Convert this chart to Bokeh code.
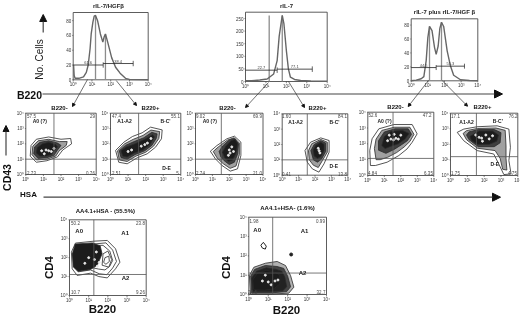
from bokeh.plotting import figure
from bokeh.models import Range1d, Arrow, NormalHead
from bokeh.core.properties import value
from bokeh.embed import file_html
from bokeh.resources import INLINE
import math

# ---------- data ----------
LOG_TICKS = [0, 1, 2, 3, 4]
LOG_LABELS = ["10⁰", "10¹", "10²", "10³", "10⁴"]

H1_X = [0.02,.05,.1,.3,.55,.7,.8,.9,.96,1.05,1.12,1.19,1.3,1.45,1.58,1.65,1.72,1.85,2.05,2.26,2.5,2.79,3.0,4.0]
H1_Y = [20,6,2,2,4,10,20,42,62,78,86,87,80,62,51,58,62,50,30,17,9,2,.5,0]
H1_YTICKS = [0, 20, 40, 60, 80]
H1_PEAKS = [(1.19, 87), (1.72, 62)]
H1_GATES = [("61.6", 0, 1.6, 20), ("38.4", 1.6, 3.2, 22)]

H2_X = [0,.3,.7,1.06,1.38,1.55,1.65,1.8,1.88,2.0,2.1,2.2,2.4,2.7,3.2,4]
H2_Y = [3,3,6,10,30,83,180,262,230,123,50,17,8,4,2,1]
H2_YTICKS = [0, 50, 100, 150, 200, 250]
H2_PEAKS = [(1.16, 262), (1.8, 262)]
H2_GATES = [("22.7", 0, 1.55, 45), ("77.1", 1.55, 3.27, 49)]

H3_X = [0,.3,.6,.76,.9,1.0,1.1,1.25,1.4,1.5,1.62,1.72,1.82,1.95,2.16,2.35,2.55,2.96,3.5,4]
H3_Y = [0,1,3,6,29,62,78,72,48,38,50,75,84,78,43,22,8,1.5,.5,0]
H3_YTICKS = [0, 20, 40, 60, 80]
H3_PEAKS = [(1.1, 78), (1.82, 84)]
H3_GATES = [("44.5", 0, 1.5, 19), ("55.3", 1.5, 3.2, 21)]

P1_RINGS = [
 [(.25,1.2),(.3,1.9),(.6,2.3),(1.3,2.45),(2.0,2.3),(2.55,2.35),(2.6,2.0),(2.1,1.6),(1.8,1.15),(1.2,.9),(.6,.8)],
 [(.35,1.3),(.4,1.85),(.7,2.2),(1.3,2.3),(1.9,2.15),(2.35,2.15),(2.3,1.9),(1.9,1.55),(1.7,1.2),(1.2,1.0),(.6,.95)],
 [(.45,1.35),(.5,1.8),(.8,2.1),(1.3,2.2),(1.8,2.05),(2.0,1.9),(1.8,1.6),(1.6,1.25),(1.2,1.1),(.7,1.05)],
 [(.6,1.4),(.65,1.75),(.95,2.0),(1.3,2.1),(1.7,1.95),(1.8,1.8),(1.6,1.55),(1.45,1.3),(1.15,1.2),(.8,1.2)],
]
P1_SPECKS = [(1.3,1.55),(1.45,1.5),(1.15,1.6),(.9,1.55),(1.6,1.7),(1.05,1.35)]

P2_RINGS = [
 [(.29,1.57),(.76,2.11),(1.25,2.48),(1.8,2.72),(2.28,3.09),(2.94,2.91),(2.9,2.33),(2.56,1.78),(2.09,1.35),(1.52,1.09),(.95,.7),(.47,.8)],
 [(.4,1.55),(.8,2.0),(1.3,2.3),(1.85,2.55),(2.3,2.9),(2.8,2.8),(2.75,2.35),(2.45,1.85),(2.0,1.45),(1.45,1.2),(.95,.85),(.5,.95)],
 [(.5,1.55),(.85,1.9),(1.35,2.15),(1.9,2.4),(2.35,2.75),(2.65,2.65),(2.6,2.35),(2.35,1.9),(1.95,1.55),(1.4,1.3),(.95,1.0),(.6,1.1)],
 [(.6,1.55),(.9,1.8),(1.4,2.0),(1.95,2.3),(2.4,2.6),(2.5,2.45),(2.25,1.95),(1.85,1.6),(1.35,1.4),(.95,1.15),(.7,1.2)],
]
P2_SPECKS = [(1.0,1.5),(1.2,1.6),(1.95,1.95),(2.1,2.05),(1.75,1.85),(2.3,2.35)]

P3_RINGS = [
 [(.88,1.52),(1.27,1.89),(1.86,2.33),(2.31,2.5),(2.69,2.11),(2.69,1.24),(2.49,.37),(2.06,.22),(1.57,.59),(1.18,1.02)],
 [(1.05,1.5),(1.35,1.8),(1.9,2.25),(2.3,2.4),(2.6,2.05),(2.6,1.3),(2.4,.55),(2.05,.4),(1.65,.7),(1.3,1.05)],
 [(1.4,1.5),(1.6,1.85),(2.0,2.25),(2.3,2.35),(2.55,2.0),(2.5,1.35),(2.3,.8),(2.0,.65),(1.7,.9),(1.5,1.15)],
 [(1.6,1.45),(1.8,1.85),(2.1,2.2),(2.35,2.3),(2.5,2.0),(2.4,1.4),(2.2,.95),(1.95,.85),(1.75,1.05)],
]
P3_SPECKS = [(2.0,1.6),(2.05,1.4),(2.15,1.8),(1.95,1.25),(2.25,1.5)]

P4_RINGS = [
 [(1.39,1.61),(1.73,2.15),(2.35,2.43),(2.86,2.26),(2.86,1.5),(2.55,.74),(2.24,.2),(1.84,.41),(1.53,.85)],
 [(1.6,1.6),(1.8,2.05),(2.35,2.33),(2.75,2.15),(2.75,1.5),(2.45,.95),(2.2,.5),(1.9,.65),(1.65,1.0)],
 [(1.75,1.6),(1.95,2.0),(2.35,2.25),(2.65,2.1),(2.65,1.55),(2.4,1.05),(2.15,.85),(1.9,1.0)],
 [(1.9,1.65),(2.05,1.95),(2.35,2.15),(2.55,2.0),(2.55,1.6),(2.35,1.2),(2.15,1.1),(1.95,1.25)],
]
P4_SPECKS = [(2.25,1.6),(2.3,1.45),(2.2,1.75)]

P5_RINGS = [
 [(.16,.63),(.12,1.58),(.26,2.32),(.67,2.95),(1.58,3.22),(2.69,3.22),(2.99,2.63),(2.69,2.1),(2.38,1.68),(1.88,1.26),(1.17,.84),(.46,.63)],
 [(.5,1.0),(.4,1.7),(.5,2.3),(.85,2.85),(1.6,3.05),(2.55,3.05),(2.8,2.6),(2.55,2.15),(2.2,1.8),(1.75,1.45),(1.2,1.15),(.75,1.0)],
 [(.65,1.6),(.65,2.2),(1.0,2.75),(1.65,2.95),(2.45,2.95),(2.65,2.6),(2.4,2.2),(2.05,1.95),(1.6,1.65),(1.1,1.4)],
 [(.85,1.9),(1.0,2.45),(1.4,2.8),(2.1,2.85),(2.5,2.65),(2.25,2.3),(1.85,2.0),(1.4,1.85),(1.05,1.7)],
]
P5_SPECKS = [(1.4,2.3),(1.55,2.25),(1.7,2.35),(1.2,2.2),(2.0,2.55),(1.6,2.6),(1.85,2.3),(1.3,2.55)]

P6_RINGS = [
 [(.4,2.77),(.79,2.98),(1.58,3.13),(2.77,3.19),(3.47,2.98),(3.56,1.81),(3.47,.96),(3.6,.1),(3.17,.06),(2.87,.74),(2.57,1.38),(1.58,1.6),(.79,2.23)],
 [(.75,2.7),(.95,2.88),(1.6,3.02),(2.7,3.05),(3.25,2.9),(3.3,1.9),(3.3,1.1),(3.35,.35),(3.1,.4),(2.95,1.1),(2.65,1.6),(1.6,1.75),(.95,2.3)],
 [(.95,2.6),(1.1,2.8),(1.65,2.95),(2.6,2.95),(3.0,2.75),(2.95,2.1),(2.6,1.85),(1.65,1.85),(1.1,2.3)],
 [(1.15,2.5),(1.7,2.85),(2.5,2.85),(2.85,2.6),(2.75,2.2),(2.3,2.0),(1.6,2.0),(1.25,2.25)],
]
P6_SPECKS = [(1.7,2.45),(1.85,2.4),(2.1,2.6),(2.3,2.35),(1.9,2.2),(1.5,2.6),(2.5,2.55)]

P7_RINGS = [
 [(.1,2.29),(.31,2.77),(1.27,2.87),(1.97,2.91),(2.4,2.47),(2.63,1.76),(2.4,1.41),(1.97,.93),(1.53,1.0),(1.1,1.18),(.4,1.06),(.14,1.41)],
 [(.18,2.2),(.35,2.65),(1.25,2.72),(1.9,2.78),(2.25,2.4),(2.45,1.8),(2.25,1.45),(1.95,1.1),(1.55,1.15),(1.1,1.35),(.45,1.25),(.22,1.55)],
 [(.22,2.2),(.4,2.6),(1.2,2.65),(1.75,2.65),(2.1,2.35),(2.25,1.85),(2.1,1.55),(1.85,1.35),(1.5,1.4),(1.05,1.5),(.45,1.4),(.25,1.65)],
 [(.15,2.2),(.3,2.72),(1.2,2.78),(1.6,2.62),(1.7,2.2),(1.45,1.6),(1.1,1.38),(.45,1.28),(.2,1.5)],
 [(1.75,2.2),(2.0,2.35),(2.2,1.9),(2.05,1.5),(1.7,1.6)],
 [(1.85,2.0),(2.05,2.08),(2.08,1.8),(1.9,1.65),(1.78,1.75)],
]
P7_SPECKS = [(1.0,2.0),(1.3,1.9),(.8,1.7),(1.55,1.75),(1.4,2.3),(1.45,1.55)]

P8_RINGS = [
 [(.03,.98),(.26,1.41),(.86,1.62),(1.46,1.71),(1.89,1.5),(2.15,.98),(2.32,.38),(2.06,.07),(1.12,.02),(.09,.02)],
 [(.1,.95),(.3,1.3),(.85,1.5),(1.45,1.45),(1.8,1.35),(2.0,.95),(2.15,.4),(1.95,.15),(1.1,.08),(.15,.08)],
 [(.15,.85),(.4,1.2),(.9,1.38),(1.4,1.3),(1.7,1.2),(1.85,.9),(1.95,.4),(1.75,.2),(1.05,.15),(.2,.15)],
 [(.2,.75),(.45,1.1),(.9,1.25),(1.35,1.15),(1.6,1.0),(1.6,.55),(1.3,.3),(.8,.22),(.25,.25)],
]
P8_SPECKS = [(.7,.7),(1.0,.65),(1.35,.7),(1.5,.75),(.85,1.0),(1.15,.5)]
P8_ISLAND = [(.62,2.55),(.75,2.7),(.9,2.5),(.85,2.35),(.7,2.4)]
P8_DOT = [(2.18, 2.07)]

# ---------- layout (reference pixels) ----------
HISTS = [
 dict(title="rIL-7/HGFβ", tx=108, ty=5.5, box=(72.7,147.7,79.3,12), ymax=91, xs=H1_X, ys=H1_Y, yt=H1_YTICKS, peaks=H1_PEAKS, gates=H1_GATES),
 dict(title="rIL-7", tx=286, ty=5, box=(245,326.7,81,11.7), ymax=275, xs=H2_X, ys=H2_Y, yt=H2_YTICKS, peaks=H2_PEAKS, gates=H2_GATES),
 dict(title="rIL-7 plus rIL-7/HGF β", tx=444, ty=11, box=(410.7,477.3,80.3,18.3), ymax=89, xs=H3_X, ys=H3_Y, yt=H3_YTICKS, peaks=H3_PEAKS, gates=H3_GATES),
]
DOTS = [
 dict(box=(25.3,95.7,174,112.7), q=(1.6,1.0), rings=P1_RINGS, specks=P1_SPECKS,
      labels=[("A0 (?)",39.3,120.7)], pct=[("57.5",31,115),("29",92,115),("2.73",31,172),("0.76",90,172)]),
 dict(box=(110,180.3,174,112.7), q=(1.6,1.0), rings=P2_RINGS, specks=P2_SPECKS,
      labels=[("A1-A2",124,120.7),("B-C'",165,120.7),("D-E",166,167.7)], pct=[("47.4",116,115),("55.1",175,115),("2.51",116,172),("5",177,172)]),
 dict(box=(195,262.5,174,112.7), q=(1.53,1.0), rings=P3_RINGS, specks=P3_SPECKS,
      labels=[("A0 (?)",209.3,120.7)], pct=[("9.02",200,115),("69.9",257,115),("2.74",200,172),("21.0",257,172)]),
 dict(box=(281.7,347.3,174.7,113.3), q=(1.53,1.0), rings=P4_RINGS, specks=P4_SPECKS,
      labels=[("A1-A2",295,121.7),("B-C'",334,121.7),("D-E",333.3,165.7)], pct=[("1.60",286,115),("84.1",342,115),("0.41",286,173),("13.8",342,173)]),
 dict(box=(367.3,433.3,175,111.7), q=(1.53,1.08), rings=P5_RINGS, specks=P5_SPECKS,
      labels=[("A0 (?)",384,120)], pct=[("52.6",372.3,114),("47.2",426.7,114),("4.84",372,172),("6.35",428,172)]),
 dict(box=(450,517.3,175,112.7), q=(1.54,1.21), rings=P6_RINGS, specks=P6_SPECKS,
      labels=[("A1-A2",466,121),("B-C'",497.3,120),("D-E",494.3,163.3)], pct=[("17.1",455,115),("76.2",512.7,115),("1.75",455,172),("4.75",512,172)]),
 dict(box=(69,145.7,295,219.3), q=(1.27,1.11), rings=P7_RINGS, specks=P7_SPECKS,
      fills=["white","white","white","#1c1c1c","white","white"], big=True,
      labels=[("A0",78.7,230.7),("A1",124.7,232),("A2",125,277)], pct=[("50.2",75,222.7),("23.8",140,222.7),("10.7",75,291.7),("9.26",140,291.7)]),
 dict(box=(248.3,326,294,216.7), q=(1.23,1.11), rings=P8_RINGS, specks=P8_SPECKS, big=True,
      fills=["#b0b0b0","#444444","#222222","#1c1c1c"],
      labels=[("A0",256.7,229),("A1",304,230),("A2",302,272.7)], pct=[("1.98",253.5,220),("0.99",320,220),("24.6",252,291),("32.7",320.5,291)]),
]
BOLD = [
 ("B220", 29, 94, 10.5, 0), ("HSA", 28, 194, 8, 0), ("CD43", 6, 177, 10.5, 90),
 ("B220-", 59, 107, 6, 0), ("B220+", 150, 107, 6, 0), ("B220-", 227, 107, 6, 0),
 ("B220+", 317, 107, 6, 0), ("B220-", 395, 106, 6, 0), ("B220+", 482, 106, 6, 0),
 ("AA4.1+HSA - (55.5%)", 105, 210, 6, 0), ("AA4.1+HSA- (1.6%)", 287, 207, 6, 0),
 ("CD4", 48, 267, 11.5, 90), ("B220", 102, 308, 11.5, 0),
 ("CD4", 225.7, 267, 11.5, 90), ("B220", 286, 309, 11.5, 0),
]
LONG_ARROWS = [((42,93.5),(502,93.5),8), ((43,196.7),(500,196.7),8), ((42.7,32),(42.7,14),7), ((5.5,155),(5.5,125),6)]
SHORT_ARROWS = [((87,79),(72,106)), ((115.7,80),(136,105)), ((268,82),(245,107)), ((288,81),(304,107)),
                ((428,80),(407.7,106)), ((441.7,80),(467,105.7))]

FONT = value("Liberation Sans")
p = figure(width=520, height=314, x_range=Range1d(0, 520), y_range=Range1d(314, 0),
           output_backend="svg", toolbar_location=None, min_border=0, outline_line_color=None,
           styles={"filter": "blur(0.4px)"})
p.xaxis.visible = False; p.yaxis.visible = False; p.grid.visible = False

def frame(sub, xmax, ymax, yvals, ylabels):
    sub.multi_line(xs=[[0, xmax, xmax, 0, 0]], ys=[[0, 0, ymax, ymax, 0]], line_color="#333333", line_width=.8)
    tx = LOG_TICKS
    sub.segment(x0=tx, y0=[0]*5, x1=tx, y1=[-.025*ymax]*5, line_color="#333333", line_width=.6)
    sub.segment(x0=[0]*len(yvals), y0=yvals, x1=[-.05]*len(yvals), y1=yvals, line_color="#333333", line_width=.6)
    sub.text(x=tx, y=[0]*5, text=LOG_LABELS, text_font=FONT, text_font_size="4.5px", text_color="#333333",
             text_align="center", text_baseline="top", y_offset=2)
    sub.text(x=[0]*len(yvals), y=yvals, text=ylabels, text_font=FONT, text_font_size="4.5px", text_color="#333333",
             text_align="right", text_baseline="middle", x_offset=-2)

for h in HISTS:
    l, r, b, t = h["box"]
    sub = p.subplot(x_source=Range1d(0, 4), y_source=Range1d(0, h["ymax"]),
                    x_target=Range1d(l, r), y_target=Range1d(b, t))
    frame(sub, 4, h["ymax"], h["yt"], [str(v) for v in h["yt"]])
    for px, py in h["peaks"]:
        sub.line([px, px], [0, py], line_color="#8c8c8c", line_width=1.3)
    sub.line(h["xs"], h["ys"], line_color="#666666", line_width=1.4)
    for i, (lab, g0, g1, gy) in enumerate(h["gates"]):
        sub.line([g0, g1], [gy, gy], line_color="#222222", line_width=.8)
        sub.line([g1, g1], [gy-.04*h["ymax"], gy+.04*h["ymax"]], line_color="#222222", line_width=.7)
        sub.text([(g0+g1)/2], [gy], text=[lab], text_font=FONT, text_font_size="4px", text_color="#444444",
                 text_align="center", text_baseline="bottom", y_offset=-1)
    p.text([h["tx"]], [h["ty"]], text=[h["title"]], text_font=FONT, text_font_style="bold", text_font_size="6px",
           text_color="#222222", text_align="center", text_baseline="middle")

RING_FILLS = ["white", "#a0a0a0", "#3e3e3e", "#1c1c1c"]
for d in DOTS:
    l, r, b, t = d["box"]
    sub = p.subplot(x_source=Range1d(0, 4), y_source=Range1d(0, 4),
                    x_target=Range1d(l, r), y_target=Range1d(b, t))
    big = d.get("big")
    frame(sub, 4, 4, LOG_TICKS, LOG_LABELS)
    fills = d.get("fills", RING_FILLS)
    for ring, fill in zip(d["rings"], fills):
        sub.patch([q[0] for q in ring], [q[1] for q in ring], fill_color=fill, line_color="#2a2a2a", line_width=.8)
    sub.scatter([s[0] for s in d["specks"]], [s[1] for s in d["specks"]], size=2, color="#e8e8e8")
    sub.line([d["q"][0]]*2, [0, 4], line_color="#555555", line_width=.8)
    sub.line([0, 4], [d["q"][1]]*2, line_color="#555555", line_width=.8)
    if d["rings"] is P8_RINGS:
        sub.patch([q[0] for q in P8_ISLAND], [q[1] for q in P8_ISLAND], fill_color="white", line_color="#222222", line_width=1)
        sub.scatter([P8_DOT[0][0]], [P8_DOT[0][1]], size=3, color="#222222")
    for lab, x, y in d["labels"]:
        p.text([x], [y], text=[lab], text_font=FONT, text_font_style="bold", text_font_size="6px" if big else "5px",
               text_color="#222222", text_align="center", text_baseline="middle")
    for lab, x, y in d["pct"]:
        p.text([x], [y], text=[lab], text_font=FONT, text_font_size="4.5px", text_color="#444444",
               text_align="center", text_baseline="middle")

for lab, x, y, fs, rot in BOLD:
    p.text([x], [y], text=[lab], text_font=FONT, text_font_style="bold", text_font_size=f"{fs}px",
           text_color="#111111", text_align="center", text_baseline="middle", angle=math.radians(rot))
p.text([39], [59], text=["No. Cells"], text_font=FONT, text_font_size="10px", text_color="#222222",
       text_align="center", text_baseline="middle", angle=math.pi/2)

for (a, c, sz) in LONG_ARROWS:
    p.add_layout(Arrow(end=NormalHead(size=sz, fill_color="#111111", line_color="#111111"), x_start=a[0], y_start=a[1],
                       x_end=c[0], y_end=c[1], line_color="#444444", line_width=1.2))
for (a, c) in SHORT_ARROWS:
    p.add_layout(Arrow(end=NormalHead(size=3, fill_color="#111111", line_color="#111111"), x_start=a[0], y_start=a[1],
                       x_end=c[0], y_end=c[1], line_color="#333333", line_width=.7))

open("out.html", "w").write(file_html(p, INLINE))
